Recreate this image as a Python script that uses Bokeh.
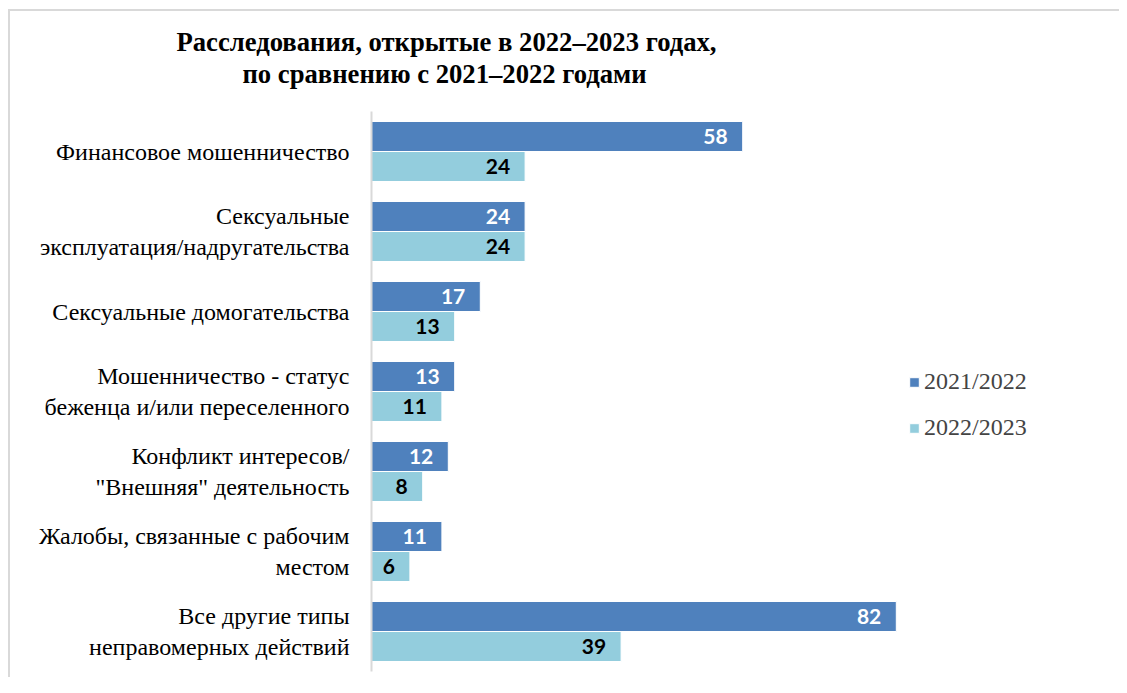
from bokeh.plotting import figure
from bokeh.models import ColumnDataSource, Range1d, Legend, LegendItem, LabelSet, FixedTicker, Title
from bokeh.core.properties import value
from bokeh.embed import file_html
from bokeh.resources import INLINE

categories = [
    "Финансовое мошенничество",
    "Сексуальные\nэксплуатация/надругательства",
    "Сексуальные домогательства",
    "Мошенничество - статус\nбеженца и/или переселенного",
    "Конфликт интересов/\n\"Внешняя\" деятельность",
    "Жалобы, связанные с рабочим\nместом",
    "Все другие типы\nнеправомерных действий",
]
series_names = ["2021/2022", "2022/2023"]
values_2122 = [58, 24, 17, 13, 12, 11, 82]
values_2223 = [24, 24, 13, 11, 8, 6, 39]

title_lines = ["Расследования, открытые в  2022–2023 годах,",
               "по сравнению с 2021–2022 годами"]

DARK = "#4F81BD"
LIGHT = "#93CDDD"
SERIF = "Liberation Serif"
GRID = "#d9d9d9"

n = len(categories)
ypos = [n - 1 - i for i in range(n)]  # first category on top
off = 0.1875
bar_h = 0.375

src = ColumnDataSource(dict(
    y=ypos,
    y1=[y + off for y in ypos],
    y2=[y - off for y in ypos],
    v1=values_2122,
    v2=values_2223,
    t1=[str(v) for v in values_2122],
    t2=[str(v) for v in values_2223],
))

p = figure(
    width=1119, height=677,
    y_range=Range1d(-0.5, 6.7875),
    x_range=Range1d(0, 115),
    output_backend="svg", toolbar_location=None,
    min_border_left=371, min_border_top=88, min_border_bottom=6, min_border_right=12,
)
p.background_fill_color = "white"
p.border_fill_color = None
p.styles = {
    "background": ("linear-gradient(#d9d9d9,#d9d9d9) 8px 9px / 2px 100% no-repeat, "
                   "linear-gradient(#d9d9d9,#d9d9d9) 8px 9px / 100% 2px no-repeat, white"),
}
p.outline_line_color = None
p.grid.visible = False
p.xaxis.visible = False

ya = p.yaxis[0]
ya.ticker = FixedTicker(ticks=ypos)
ya.major_label_overrides = {y: c for y, c in zip(ypos, categories)}
ya.bounds = (-0.5, n - 0.5)
ya.axis_line_color = GRID
ya.axis_line_width = 2
ya.major_tick_line_color = None
ya.minor_tick_line_color = None
ya.major_tick_out = 0
ya.major_tick_in = 0
ya.major_label_standoff = 22
ya.major_label_text_font = SERIF
ya.major_label_text_font_size = "24px"
ya.major_label_text_color = "black"
ya.major_label_text_line_height = 1.2

r1 = p.hbar(y="y1", right="v1", left=0, height=bar_h,
            source=src, fill_color=DARK, line_color="white", line_width=1)
r2 = p.hbar(y="y2", right="v2", left=0, height=bar_h,
            source=src, fill_color=LIGHT, line_color="white", line_width=1)

lab1 = LabelSet(x="v1", y="y1", text="t1", source=src,
                x_offset=-15, text_align="right", text_baseline="middle",
                text_font=value("Lato"), text_font_style="bold", text_font_size="21px",
                text_color="white")
lab2 = LabelSet(x="v2", y="y2", text="t2", source=src,
                x_offset=-15, text_align="right", text_baseline="middle",
                text_font=value("Lato"), text_font_style="bold", text_font_size="21px",
                text_color="black")
p.add_layout(lab1)
p.add_layout(lab2)

# two title lines, nearest to the frame added first
for text, off_px in [(title_lines[1], -129), (title_lines[0], -195)]:
    p.add_layout(Title(text=text, align="left", offset=off_px, standoff=0,
                       text_font=SERIF, text_font_style="bold", text_font_size="26.67px",
                       text_color="black"), "above")

legend = Legend(items=[LegendItem(label=series_names[0], renderers=[r1]),
                       LegendItem(label=series_names[1], renderers=[r2])],
                location=(537, 230), orientation="vertical",
                padding=0, margin=0, spacing=19, glyph_width=12, glyph_height=12,
                label_text_font=SERIF, label_text_font_size="24px",
                label_standoff=4, border_line_color=None, background_fill_alpha=0)
p.add_layout(legend)

open("out.html", "w").write(file_html(p, INLINE))
